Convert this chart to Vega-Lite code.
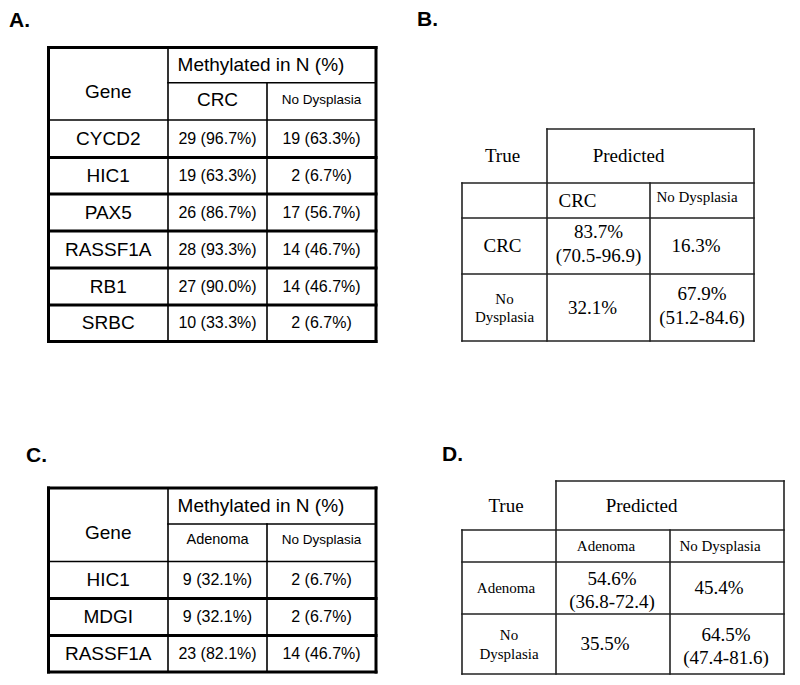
{
  "$schema": "https://vega.github.io/schema/vega-lite/v6.json",
  "width": 800,
  "height": 685,
  "autosize": "none",
  "padding": 0,
  "background": "white",
  "config": {"view": {"stroke": null}, "text": {"color": "black", "align": "center", "baseline": "middle"}},
  "datasets": {
    "lines": [
      {"panel": "A", "col": 1, "col2": 3, "row": 1, "row2": 1, "weight": "thin"},
      {"panel": "A", "col": 0, "col2": 3, "row": 2, "row2": 2, "weight": "thin"},
      {"panel": "A", "col": 1, "col2": 1, "row": 0, "row2": 8, "weight": "thin"},
      {"panel": "A", "col": 2, "col2": 2, "row": 1, "row2": 8, "weight": "thin"},
      {"panel": "A", "col": 0, "col2": 3, "row": 3, "row2": 3, "weight": "thick"},
      {"panel": "A", "col": 0, "col2": 3, "row": 4, "row2": 4, "weight": "thick"},
      {"panel": "A", "col": 0, "col2": 3, "row": 5, "row2": 5, "weight": "thick"},
      {"panel": "A", "col": 0, "col2": 3, "row": 6, "row2": 6, "weight": "thick"},
      {"panel": "A", "col": 0, "col2": 3, "row": 7, "row2": 7, "weight": "thick"},
      {"panel": "A", "col": 0, "col2": 3, "row": 0, "row2": 0, "weight": "thick"},
      {"panel": "A", "col": 0, "col2": 3, "row": 8, "row2": 8, "weight": "thick"},
      {"panel": "A", "col": 0, "col2": 0, "row": 0, "row2": 8, "weight": "thick"},
      {"panel": "A", "col": 3, "col2": 3, "row": 0, "row2": 8, "weight": "thick"},
      {"panel": "C", "col": 1, "col2": 3, "row": 1, "row2": 1, "weight": "thin"},
      {"panel": "C", "col": 0, "col2": 3, "row": 2, "row2": 2, "weight": "thin"},
      {"panel": "C", "col": 1, "col2": 1, "row": 0, "row2": 5, "weight": "thin"},
      {"panel": "C", "col": 2, "col2": 2, "row": 1, "row2": 5, "weight": "thin"},
      {"panel": "C", "col": 0, "col2": 3, "row": 3, "row2": 3, "weight": "thick"},
      {"panel": "C", "col": 0, "col2": 3, "row": 4, "row2": 4, "weight": "thick"},
      {"panel": "C", "col": 0, "col2": 3, "row": 0, "row2": 0, "weight": "thick"},
      {"panel": "C", "col": 0, "col2": 3, "row": 5, "row2": 5, "weight": "thick"},
      {"panel": "C", "col": 0, "col2": 0, "row": 0, "row2": 5, "weight": "thick"},
      {"panel": "C", "col": 3, "col2": 3, "row": 0, "row2": 5, "weight": "thick"},
      {"panel": "B", "col": 1, "col2": 3, "row": 0, "row2": 0, "weight": "thin"},
      {"panel": "B", "col": 1, "col2": 1, "row": 0, "row2": 4, "weight": "thin"},
      {"panel": "B", "col": 3, "col2": 3, "row": 0, "row2": 4, "weight": "thin"},
      {"panel": "B", "col": 0, "col2": 3, "row": 1, "row2": 1, "weight": "thin"},
      {"panel": "B", "col": 0, "col2": 3, "row": 2, "row2": 2, "weight": "thin"},
      {"panel": "B", "col": 0, "col2": 3, "row": 3, "row2": 3, "weight": "thin"},
      {"panel": "B", "col": 0, "col2": 3, "row": 4, "row2": 4, "weight": "thin"},
      {"panel": "B", "col": 0, "col2": 0, "row": 1, "row2": 4, "weight": "thin"},
      {"panel": "B", "col": 2, "col2": 2, "row": 1, "row2": 4, "weight": "thin"},
      {"panel": "D", "col": 1, "col2": 3, "row": 0, "row2": 0, "weight": "thin"},
      {"panel": "D", "col": 1, "col2": 1, "row": 0, "row2": 4, "weight": "thin"},
      {"panel": "D", "col": 3, "col2": 3, "row": 0, "row2": 4, "weight": "thin"},
      {"panel": "D", "col": 0, "col2": 3, "row": 1, "row2": 1, "weight": "thin"},
      {"panel": "D", "col": 0, "col2": 3, "row": 2, "row2": 2, "weight": "thin"},
      {"panel": "D", "col": 0, "col2": 3, "row": 3, "row2": 3, "weight": "thin"},
      {"panel": "D", "col": 0, "col2": 3, "row": 4, "row2": 4, "weight": "thin"},
      {"panel": "D", "col": 0, "col2": 0, "row": 1, "row2": 4, "weight": "thin"},
      {"panel": "D", "col": 2, "col2": 2, "row": 1, "row2": 4, "weight": "thin"}
    ],
    "texts": [
      {"panel": "A", "role": "label", "label": "A.", "col": -1, "row": -1},
      {"panel": "A", "role": "corner", "label": "Gene", "col": 0.5, "row": 1},
      {"panel": "A", "role": "group", "label": "Methylated in N (%)", "col": 2, "row": 0.5},
      {"panel": "A", "role": "colhead", "label": "CRC", "col": 1.5, "row": 1.5},
      {"panel": "A", "role": "colhead", "label": "No Dysplasia", "col": 2.5, "row": 1.5},
      {"panel": "A", "role": "rowhead", "label": "CYCD2", "col": 0.5, "row": 2.5},
      {"panel": "A", "role": "rowhead", "label": "HIC1", "col": 0.5, "row": 3.5},
      {"panel": "A", "role": "rowhead", "label": "PAX5", "col": 0.5, "row": 4.5},
      {"panel": "A", "role": "rowhead", "label": "RASSF1A", "col": 0.5, "row": 5.5},
      {"panel": "A", "role": "rowhead", "label": "RB1", "col": 0.5, "row": 6.5},
      {"panel": "A", "role": "rowhead", "label": "SRBC", "col": 0.5, "row": 7.5},
      {"panel": "A", "role": "value", "label": "29 (96.7%)", "col": 1.5, "row": 2.5},
      {"panel": "A", "role": "value", "label": "19 (63.3%)", "col": 2.5, "row": 2.5},
      {"panel": "A", "role": "value", "label": "19 (63.3%)", "col": 1.5, "row": 3.5},
      {"panel": "A", "role": "value", "label": "2 (6.7%)", "col": 2.5, "row": 3.5},
      {"panel": "A", "role": "value", "label": "26 (86.7%)", "col": 1.5, "row": 4.5},
      {"panel": "A", "role": "value", "label": "17 (56.7%)", "col": 2.5, "row": 4.5},
      {"panel": "A", "role": "value", "label": "28 (93.3%)", "col": 1.5, "row": 5.5},
      {"panel": "A", "role": "value", "label": "14 (46.7%)", "col": 2.5, "row": 5.5},
      {"panel": "A", "role": "value", "label": "27 (90.0%)", "col": 1.5, "row": 6.5},
      {"panel": "A", "role": "value", "label": "14 (46.7%)", "col": 2.5, "row": 6.5},
      {"panel": "A", "role": "value", "label": "10 (33.3%)", "col": 1.5, "row": 7.5},
      {"panel": "A", "role": "value", "label": "2 (6.7%)", "col": 2.5, "row": 7.5},
      {"panel": "C", "role": "label", "label": "C.", "col": -1, "row": -1},
      {"panel": "C", "role": "corner", "label": "Gene", "col": 0.5, "row": 1},
      {"panel": "C", "role": "group", "label": "Methylated in N (%)", "col": 2, "row": 0.5},
      {"panel": "C", "role": "colhead", "label": "Adenoma", "col": 1.5, "row": 1.5},
      {"panel": "C", "role": "colhead", "label": "No Dysplasia", "col": 2.5, "row": 1.5},
      {"panel": "C", "role": "rowhead", "label": "HIC1", "col": 0.5, "row": 2.5},
      {"panel": "C", "role": "rowhead", "label": "MDGI", "col": 0.5, "row": 3.5},
      {"panel": "C", "role": "rowhead", "label": "RASSF1A", "col": 0.5, "row": 4.5},
      {"panel": "C", "role": "value", "label": "9 (32.1%)", "col": 1.5, "row": 2.5},
      {"panel": "C", "role": "value", "label": "2 (6.7%)", "col": 2.5, "row": 2.5},
      {"panel": "C", "role": "value", "label": "9 (32.1%)", "col": 1.5, "row": 3.5},
      {"panel": "C", "role": "value", "label": "2 (6.7%)", "col": 2.5, "row": 3.5},
      {"panel": "C", "role": "value", "label": "23 (82.1%)", "col": 1.5, "row": 4.5},
      {"panel": "C", "role": "value", "label": "14 (46.7%)", "col": 2.5, "row": 4.5},
      {"panel": "B", "role": "label", "label": "B.", "col": -1, "row": -1},
      {"panel": "B", "role": "corner", "label": "True", "col": 0.5, "row": 0.5},
      {"panel": "B", "role": "group", "label": "Predicted", "col": 2, "row": 0.5},
      {"panel": "B", "role": "colhead", "label": "CRC", "col": 1.5, "row": 1.5},
      {"panel": "B", "role": "colhead", "label": "No Dysplasia", "col": 2.5, "row": 1.5},
      {"panel": "B", "role": "rowhead", "label": "CRC", "col": 0.5, "row": 2.5},
      {"panel": "B", "role": "rowhead", "label": "No\nDysplasia", "col": 0.5, "row": 3.5},
      {"panel": "B", "role": "value", "label": "83.7%\n(70.5-96.9)", "col": 1.5, "row": 2.5},
      {"panel": "B", "role": "value", "label": "16.3%", "col": 2.5, "row": 2.5},
      {"panel": "B", "role": "value", "label": "32.1%", "col": 1.5, "row": 3.5},
      {"panel": "B", "role": "value", "label": "67.9%\n(51.2-84.6)", "col": 2.5, "row": 3.5},
      {"panel": "D", "role": "label", "label": "D.", "col": -1, "row": -1},
      {"panel": "D", "role": "corner", "label": "True", "col": 0.5, "row": 0.5},
      {"panel": "D", "role": "group", "label": "Predicted", "col": 2, "row": 0.5},
      {"panel": "D", "role": "colhead", "label": "Adenoma", "col": 1.5, "row": 1.5},
      {"panel": "D", "role": "colhead", "label": "No Dysplasia", "col": 2.5, "row": 1.5},
      {"panel": "D", "role": "rowhead", "label": "Adenoma", "col": 0.5, "row": 2.5},
      {"panel": "D", "role": "rowhead", "label": "No\nDysplasia", "col": 0.5, "row": 3.5},
      {"panel": "D", "role": "value", "label": "54.6%\n(36.8-72.4)", "col": 1.5, "row": 2.5},
      {"panel": "D", "role": "value", "label": "45.4%", "col": 2.5, "row": 2.5},
      {"panel": "D", "role": "value", "label": "35.5%", "col": 1.5, "row": 3.5},
      {"panel": "D", "role": "value", "label": "64.5%\n(47.4-81.6)", "col": 2.5, "row": 3.5}
    ]
  },
  "layer": [
    {
      "encoding": {
        "x": {"field": "col", "type": "quantitative", "axis": null, "scale": {"domain": [-1, 0, 1, 2, 3], "range": [9, 48.5, 168, 267, 376], "nice": false, "zero": false}},
        "y": {"field": "row", "type": "quantitative", "axis": null, "scale": {"domain": [-1, 0, 1, 2, 3, 4, 5, 6, 7, 8], "range": [27, 47.5, 82.7, 120, 157.5, 194, 231, 268, 305, 341.5], "nice": false, "zero": false}}
      },
      "layer": [
        {"data": {"name": "lines"}, "transform": [{"filter": "datum.panel == 'A'"}],
         "mark": {"type": "rule", "color": "#000000", "strokeCap": "square"},
         "encoding": {"x2": {"field": "col2"}, "y2": {"field": "row2"},
           "strokeWidth": {"field": "weight", "type": "ordinal", "scale": {"domain": ["thin", "thick"], "range": [1.6, 3]}, "legend": null}}},
        {"data": {"name": "texts"}, "transform": [{"filter": "datum.panel == 'A' && datum.role == 'label'"}],
         "mark": {"type": "text", "font": "Liberation Sans", "fontWeight": "bold", "fontSize": 21, "align": "left", "baseline": "alphabetic"},
         "encoding": {"text": {"field": "label"}}},
        {"data": {"name": "texts"}, "transform": [{"filter": "datum.panel == 'A' && datum.role == 'corner'"}],
         "mark": {"type": "text", "font": "Liberation Sans", "fontSize": 19, "dy": 9},
         "encoding": {"text": {"field": "label"}}},
        {"data": {"name": "texts"}, "transform": [{"filter": "datum.panel == 'A' && datum.role == 'group'"}],
         "mark": {"type": "text", "font": "Liberation Sans", "fontSize": 19, "dx": -6},
         "encoding": {"text": {"field": "label"}}},
        {"data": {"name": "texts"}, "transform": [{"filter": "datum.panel == 'A' && datum.role == 'colhead'"}],
         "mark": {"type": "text", "font": "Liberation Sans", "dy": -1},
         "encoding": {"text": {"field": "label"}, "size": {"condition": {"test": "datum.label == 'No Dysplasia'", "value": 13.5}, "value": 19}}},
        {"data": {"name": "texts"}, "transform": [{"filter": "datum.panel == 'A' && datum.role == 'rowhead'"}],
         "mark": {"type": "text", "font": "Liberation Sans", "fontSize": 19},
         "encoding": {"text": {"field": "label"}}},
        {"data": {"name": "texts"}, "transform": [{"filter": "datum.panel == 'A' && datum.role == 'value'"}],
         "mark": {"type": "text", "font": "Liberation Sans", "fontSize": 16},
         "encoding": {"text": {"field": "label"}}}
      ]
    },
    {
      "encoding": {
        "x": {"field": "col", "type": "quantitative", "axis": null, "scale": {"domain": [-1, 0, 1, 2, 3], "range": [26, 48.5, 168, 267, 376], "nice": false, "zero": false}},
        "y": {"field": "row", "type": "quantitative", "axis": null, "scale": {"domain": [-1, 0, 1, 2, 3, 4, 5], "range": [462, 488, 524, 561.5, 598.5, 635.5, 672], "nice": false, "zero": false}}
      },
      "layer": [
        {"data": {"name": "lines"}, "transform": [{"filter": "datum.panel == 'C'"}],
         "mark": {"type": "rule", "color": "#000000", "strokeCap": "square"},
         "encoding": {"x2": {"field": "col2"}, "y2": {"field": "row2"},
           "strokeWidth": {"field": "weight", "type": "ordinal", "scale": {"domain": ["thin", "thick"], "range": [1.6, 3]}, "legend": null}}},
        {"data": {"name": "texts"}, "transform": [{"filter": "datum.panel == 'C' && datum.role == 'label'"}],
         "mark": {"type": "text", "font": "Liberation Sans", "fontWeight": "bold", "fontSize": 21, "align": "left", "baseline": "alphabetic"},
         "encoding": {"text": {"field": "label"}}},
        {"data": {"name": "texts"}, "transform": [{"filter": "datum.panel == 'C' && datum.role == 'corner'"}],
         "mark": {"type": "text", "font": "Liberation Sans", "fontSize": 19, "dy": 9},
         "encoding": {"text": {"field": "label"}}},
        {"data": {"name": "texts"}, "transform": [{"filter": "datum.panel == 'C' && datum.role == 'group'"}],
         "mark": {"type": "text", "font": "Liberation Sans", "fontSize": 19, "dx": -6},
         "encoding": {"text": {"field": "label"}}},
        {"data": {"name": "texts"}, "transform": [{"filter": "datum.panel == 'C' && datum.role == 'colhead'"}],
         "mark": {"type": "text", "font": "Liberation Sans", "dy": -3},
         "encoding": {"text": {"field": "label"}, "size": {"condition": {"test": "datum.label == 'No Dysplasia'", "value": 13.5}, "value": 14.5}}},
        {"data": {"name": "texts"}, "transform": [{"filter": "datum.panel == 'C' && datum.role == 'rowhead'"}],
         "mark": {"type": "text", "font": "Liberation Sans", "fontSize": 19},
         "encoding": {"text": {"field": "label"}}},
        {"data": {"name": "texts"}, "transform": [{"filter": "datum.panel == 'C' && datum.role == 'value'"}],
         "mark": {"type": "text", "font": "Liberation Sans", "fontSize": 16},
         "encoding": {"text": {"field": "label"}}}
      ]
    },
    {
      "encoding": {
        "x": {"field": "col", "type": "quantitative", "axis": null, "scale": {"domain": [-1, 0, 1, 2, 3], "range": [417, 462, 547, 650, 754], "nice": false, "zero": false}},
        "y": {"field": "row", "type": "quantitative", "axis": null, "scale": {"domain": [-1, 0, 1, 2, 3, 4], "range": [26, 129, 183, 218, 274, 341], "nice": false, "zero": false}}
      },
      "layer": [
        {"data": {"name": "lines"}, "transform": [{"filter": "datum.panel == 'B'"}],
         "mark": {"type": "rule", "color": "#222222", "strokeCap": "square"},
         "encoding": {"x2": {"field": "col2"}, "y2": {"field": "row2"},
           "strokeWidth": {"field": "weight", "type": "ordinal", "scale": {"domain": ["thin", "thick"], "range": [1.6, 3]}, "legend": null}}},
        {"data": {"name": "texts"}, "transform": [{"filter": "datum.panel == 'B' && datum.role == 'label'"}],
         "mark": {"type": "text", "font": "Liberation Sans", "fontWeight": "bold", "fontSize": 21, "align": "left", "baseline": "alphabetic"},
         "encoding": {"text": {"field": "label"}}},
        {"data": {"name": "texts"}, "transform": [{"filter": "datum.panel == 'B' && datum.role == 'corner'"}],
         "mark": {"type": "text", "font": "Liberation Serif", "fontSize": 19, "dx": -2},
         "encoding": {"text": {"field": "label"}}},
        {"data": {"name": "texts"}, "transform": [{"filter": "datum.panel == 'B' && datum.role == 'group'"}],
         "mark": {"type": "text", "font": "Liberation Serif", "fontSize": 19, "dx": -21.5},
         "encoding": {"text": {"field": "label"}}},
        {"data": {"name": "texts"}, "transform": [{"filter": "datum.panel == 'B' && datum.role == 'colhead' && datum.label != 'No Dysplasia'"}],
         "mark": {"type": "text", "font": "Liberation Serif", "fontSize": 19, "dx": -21},
         "encoding": {"text": {"field": "label"}}},
        {"data": {"name": "texts"}, "transform": [{"filter": "datum.panel == 'B' && datum.role == 'colhead' && datum.label == 'No Dysplasia'"}],
         "mark": {"type": "text", "font": "Liberation Serif", "fontSize": 15, "dx": -5, "dy": -3.5},
         "encoding": {"text": {"field": "label"}}},
        {"data": {"name": "texts"}, "transform": [{"filter": "datum.panel == 'B' && datum.role == 'rowhead' && indexof(datum.label, '\\n') < 0"}],
         "mark": {"type": "text", "font": "Liberation Serif", "fontSize": 19, "dx": -2},
         "encoding": {"text": {"field": "label"}}},
        {"data": {"name": "texts"}, "transform": [{"filter": "datum.panel == 'B' && datum.role == 'rowhead' && indexof(datum.label, '\\n') >= 0"}],
         "mark": {"type": "text", "font": "Liberation Serif", "fontSize": 15, "lineBreak": "\n", "lineHeight": 18, "dx": 0, "dy": -9},
         "encoding": {"text": {"field": "label"}}},
        {"data": {"name": "texts"}, "transform": [{"filter": "datum.panel == 'B' && datum.role == 'value' && indexof(datum.label, '\\n') < 0"}],
         "mark": {"type": "text", "font": "Liberation Serif", "fontSize": 19, "dx": -6},
         "encoding": {"text": {"field": "label"}}},
        {"data": {"name": "texts"}, "transform": [{"filter": "datum.panel == 'B' && datum.role == 'value' && indexof(datum.label, '\\n') >= 0"}],
         "mark": {"type": "text", "font": "Liberation Serif", "fontSize": 19, "lineBreak": "\n", "lineHeight": 24, "dx": 0, "dy": -14},
         "encoding": {"text": {"field": "label"}}}
      ]
    },
    {
      "encoding": {
        "x": {"field": "col", "type": "quantitative", "axis": null, "scale": {"domain": [-1, 0, 1, 2, 3], "range": [442, 462, 556, 670, 784], "nice": false, "zero": false}},
        "y": {"field": "row", "type": "quantitative", "axis": null, "scale": {"domain": [-1, 0, 1, 2, 3, 4], "range": [460.5, 481, 530, 562, 614, 674], "nice": false, "zero": false}}
      },
      "layer": [
        {"data": {"name": "lines"}, "transform": [{"filter": "datum.panel == 'D'"}],
         "mark": {"type": "rule", "color": "#222222", "strokeCap": "square"},
         "encoding": {"x2": {"field": "col2"}, "y2": {"field": "row2"},
           "strokeWidth": {"field": "weight", "type": "ordinal", "scale": {"domain": ["thin", "thick"], "range": [1.6, 3]}, "legend": null}}},
        {"data": {"name": "texts"}, "transform": [{"filter": "datum.panel == 'D' && datum.role == 'label'"}],
         "mark": {"type": "text", "font": "Liberation Sans", "fontWeight": "bold", "fontSize": 21, "align": "left", "baseline": "alphabetic"},
         "encoding": {"text": {"field": "label"}}},
        {"data": {"name": "texts"}, "transform": [{"filter": "datum.panel == 'D' && datum.role == 'corner'"}],
         "mark": {"type": "text", "font": "Liberation Serif", "fontSize": 19, "dx": -3},
         "encoding": {"text": {"field": "label"}}},
        {"data": {"name": "texts"}, "transform": [{"filter": "datum.panel == 'D' && datum.role == 'group'"}],
         "mark": {"type": "text", "font": "Liberation Serif", "fontSize": 19, "dx": -28.5},
         "encoding": {"text": {"field": "label"}}},
        {"data": {"name": "texts"}, "transform": [{"filter": "datum.panel == 'D' && datum.role == 'colhead'"}],
         "mark": {"type": "text", "font": "Liberation Serif", "fontSize": 15, "dx": -7},
         "encoding": {"text": {"field": "label"}}},
        {"data": {"name": "texts"}, "transform": [{"filter": "datum.panel == 'D' && datum.role == 'rowhead' && indexof(datum.label, '\\n') < 0"}],
         "mark": {"type": "text", "font": "Liberation Serif", "fontSize": 15, "dx": -3},
         "encoding": {"text": {"field": "label"}}},
        {"data": {"name": "texts"}, "transform": [{"filter": "datum.panel == 'D' && datum.role == 'rowhead' && indexof(datum.label, '\\n') >= 0"}],
         "mark": {"type": "text", "font": "Liberation Serif", "fontSize": 15, "lineBreak": "\n", "lineHeight": 19, "dx": 0, "dy": -9.5},
         "encoding": {"text": {"field": "label"}}},
        {"data": {"name": "texts"}, "transform": [{"filter": "datum.panel == 'D' && datum.role == 'value' && indexof(datum.label, '\\n') < 0"}],
         "mark": {"type": "text", "font": "Liberation Serif", "fontSize": 19, "dx": -8},
         "encoding": {"text": {"field": "label"}}},
        {"data": {"name": "texts"}, "transform": [{"filter": "datum.panel == 'D' && datum.role == 'value' && indexof(datum.label, '\\n') >= 0"}],
         "mark": {"type": "text", "font": "Liberation Serif", "fontSize": 19, "lineBreak": "\n", "lineHeight": 23, "dx": -1, "dy": -9},
         "encoding": {"text": {"field": "label"}}}
      ]
    }
  ],
  "resolve": {"scale": {"x": "independent", "y": "independent"}}
}
